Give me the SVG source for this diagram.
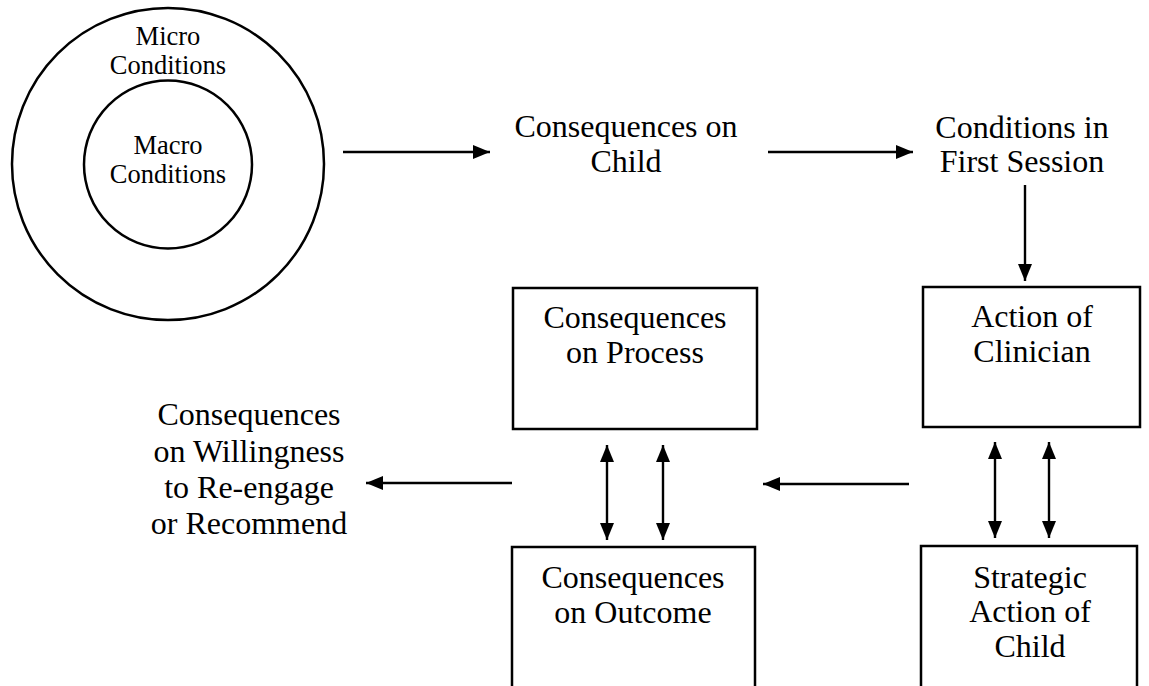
<svg xmlns="http://www.w3.org/2000/svg" width="1149" height="686" viewBox="0 0 1149 686">
<style>
text{font-family:"Liberation Serif","Times New Roman",serif;fill:#000;text-anchor:middle}
.t{font-size:32px}
.c{font-size:26.5px}
.shape{fill:none;stroke:#000;stroke-width:2.5}
.conn line{stroke:#000;stroke-width:2.4}
</style>
<defs>
<marker id="ah" viewBox="0 0 17 14" refX="17" refY="7" markerWidth="17" markerHeight="14" markerUnits="userSpaceOnUse" orient="auto-start-reverse">
<path d="M0,0 L17,7 L0,14 Z" fill="#000"/>
</marker>
</defs>
<rect width="1149" height="686" fill="#fff"/>
<g id="circles">
<circle class="shape" cx="168" cy="164" r="156"/>
<circle class="shape" cx="168" cy="164.5" r="84"/>
<text class="c" x="168" y="45">Micro</text>
<text class="c" x="168" y="74">Conditions</text>
<text class="c" x="168" y="154">Macro</text>
<text class="c" x="168" y="183">Conditions</text>
</g>
<g id="conseq-child">
<text class="t" x="626" y="137">Consequences on</text>
<text class="t" x="626" y="172">Child</text>
</g>
<g id="conditions-first">
<text class="t" x="1022" y="138">Conditions in</text>
<text class="t" x="1022" y="172">First Session</text>
</g>
<g id="action-clinician">
<rect class="shape" x="923" y="287" width="217" height="140"/>
<text class="t" x="1032" y="327">Action of</text>
<text class="t" x="1032" y="362">Clinician</text>
</g>
<g id="strategic-child">
<rect class="shape" x="921" y="546" width="216" height="160"/>
<text class="t" x="1030" y="588">Strategic</text>
<text class="t" x="1030" y="622">Action of</text>
<text class="t" x="1030" y="657">Child</text>
</g>
<g id="conseq-process">
<rect class="shape" x="513" y="288" width="244" height="141"/>
<text class="t" x="635" y="328">Consequences</text>
<text class="t" x="635" y="363">on Process</text>
</g>
<g id="conseq-outcome">
<rect class="shape" x="512" y="547" width="243" height="160"/>
<text class="t" x="633" y="588">Consequences</text>
<text class="t" x="633" y="623">on Outcome</text>
</g>
<g id="conseq-willingness">
<text class="t" x="249" y="425">Consequences</text>
<text class="t" x="249" y="462">on Willingness</text>
<text class="t" x="249" y="498">to Re-engage</text>
<text class="t" x="249" y="534">or Recommend</text>
</g>
<g class="conn" id="connectors">
<line x1="343" y1="152" x2="490" y2="152" marker-end="url(#ah)"/>
<line x1="768" y1="152" x2="913" y2="152" marker-end="url(#ah)"/>
<line x1="1025" y1="185" x2="1025" y2="281" marker-end="url(#ah)"/>
<line x1="995" y1="442" x2="995" y2="538" marker-start="url(#ah)" marker-end="url(#ah)"/>
<line x1="1049" y1="442" x2="1049" y2="538" marker-start="url(#ah)" marker-end="url(#ah)"/>
<line x1="607" y1="445" x2="607" y2="540" marker-start="url(#ah)" marker-end="url(#ah)"/>
<line x1="663" y1="445" x2="663" y2="540" marker-start="url(#ah)" marker-end="url(#ah)"/>
<line x1="909" y1="484" x2="763" y2="484" marker-end="url(#ah)"/>
<line x1="512" y1="483" x2="366" y2="483" marker-end="url(#ah)"/>
</g>
</svg>
